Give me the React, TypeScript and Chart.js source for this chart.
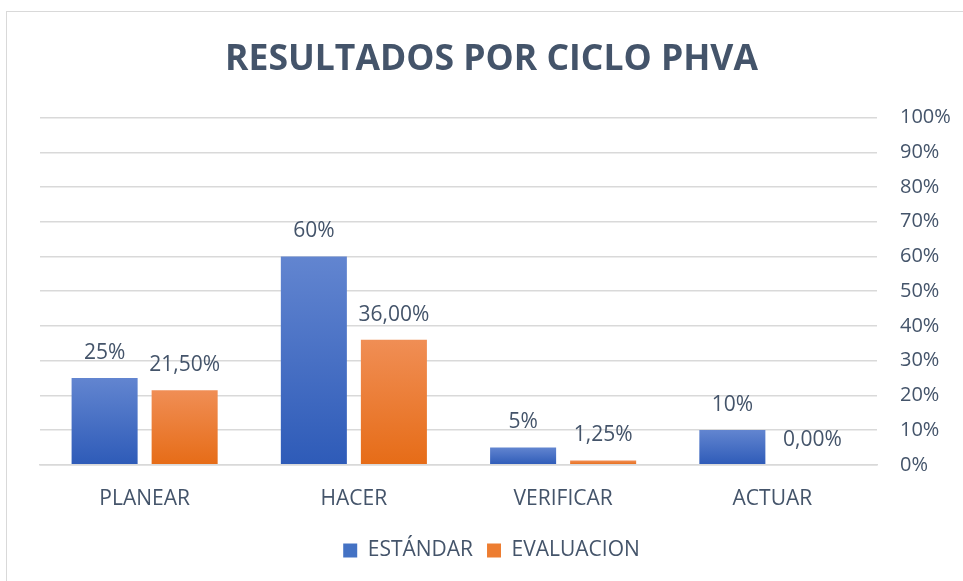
import React, { useEffect, useRef } from "react";
import { Chart, registerables } from "chart.js";

Chart.register(...registerables);

const categories = ["PLANEAR", "HACER", "VERIFICAR", "ACTUAR"];
const estandar = [25, 60, 5, 10];
const evaluacion = [21.5, 36, 1.25, 0];
const yTicks = [0, 10, 20, 30, 40, 50, 60, 70, 80, 90, 100];
const seriesNames = ["ESTÁNDAR", "EVALUACION"];

const TEXT = "#44546A";
const FONT = "'Open Sans', 'Liberation Sans', sans-serif";

function barGradient(ctx: any, top: string, bottom: string) {
  const chart = ctx.chart;
  const scale = chart.scales && chart.scales.y;
  if (!scale || ctx.dataIndex === undefined) return bottom;
  const v = ctx.raw as number;
  const yTop = scale.getPixelForValue(v);
  const yBase = scale.getPixelForValue(0);
  if (!isFinite(yTop) || !isFinite(yBase) || Math.abs(yBase - yTop) < 1) return bottom;
  const g = chart.ctx.createLinearGradient(0, yTop, 0, yBase);
  g.addColorStop(0, top);
  g.addColorStop(1, bottom);
  return g;
}

const labelPlugin = {
  id: "barLabels",
  afterDatasetsDraw(chart: any) {
    const ctx = chart.ctx;
    ctx.save();
    ctx.font = `21px ${FONT}`;
    ctx.fillStyle = TEXT;
    ctx.textAlign = "center";
    ctx.textBaseline = "middle";
    chart.data.datasets.forEach((ds: any, di: number) => {
      const meta = chart.getDatasetMeta(di);
      meta.data.forEach((bar: any, i: number) => {
        const v = ds.data[i] as number;
        const txt = di === 0 ? `${v}%` : `${v.toFixed(2).replace(".", ",")}%`;
        ctx.fillText(txt, bar.x, bar.y - 25);
      });
    });
    ctx.restore();
  },
};

export default function App() {
  const ref = useRef<HTMLCanvasElement | null>(null);
  useEffect(() => {
    if (!ref.current) return;
    const chart = new Chart(ref.current, {
      type: "bar",
      data: {
        labels: categories,
        datasets: [
          {
            label: seriesNames[0],
            data: estandar,
            backgroundColor: (c: any) => barGradient(c, "#6285D0", "#2E5BB8"),
            categoryPercentage: 0.765,
            barPercentage: 0.825,
            yAxisID: "y",
          },
          {
            label: seriesNames[1],
            data: evaluacion,
            backgroundColor: (c: any) => barGradient(c, "#F08E55", "#E66C17"),
            categoryPercentage: 0.765,
            barPercentage: 0.825,
            yAxisID: "y",
          },
        ],
      },
      options: {
        animation: false,
        responsive: false,
        maintainAspectRatio: false,
        layout: { padding: { left: 20, right: 0, top: 0, bottom: 10 } },
        plugins: {
          title: {
            display: true,
            text: "RESULTADOS POR CICLO PHVA",
            color: TEXT,
            font: { family: FONT, size: 35.5, weight: "bold" },
            padding: { top: 39, bottom: 36 },
          },
          legend: {
            position: "bottom",
            labels: {
              color: TEXT,
              font: { family: FONT, size: 21 },
              boxWidth: 14,
              boxHeight: 14,
              padding: 14,
              generateLabels: () => [
                { text: seriesNames[0], fillStyle: "#4472C4", strokeStyle: "#4472C4", lineWidth: 0, fontColor: TEXT, datasetIndex: 0 },
                { text: seriesNames[1], fillStyle: "#ED7D31", strokeStyle: "#ED7D31", lineWidth: 0, fontColor: TEXT, datasetIndex: 1 },
              ],
            },
          },
          tooltip: { enabled: false },
        },
        scales: {
          x: {
            grid: { display: false },
            border: { display: true, color: "#D9D9D9", width: 1.5 },
            ticks: { color: TEXT, font: { family: FONT, size: 21 }, padding: 14 },
          },
          yl: {
            type: "linear",
            position: "left",
            display: true,
            grid: { display: false, drawTicks: false },
            border: { display: false },
            ticks: { display: false },
            afterFit: (s: any) => {
              s.width = 20;
            },
          },
          y: {
            position: "right",
            min: 0,
            max: 100,
            afterBuildTicks: (s: any) => {
              s.ticks = yTicks.map((v) => ({ value: v }));
            },
            afterFit: (s: any) => {
              s.width = 86;
            },
            grid: { color: "#D9D9D9", drawTicks: false, lineWidth: 1.5 },
            border: { display: false },
            ticks: {
              color: TEXT,
              font: { family: FONT, size: 20 },
              padding: 23,
              callback: (v: any) => `${v}%`,
            },
          },
        },
      },
      plugins: [labelPlugin],
    } as any);
    return () => chart.destroy();
  }, []);

  return (
    <div style={{ position: "fixed", left: 0, top: 0, width: 963, height: 581, background: "#fff", overflow: "hidden" }}>
      <div style={{ position: "absolute", left: 6, top: 11, width: 1000, height: 1000, border: "1px solid #D9D9D9" }} />
      <canvas ref={ref} width={963} height={581} style={{ position: "absolute", left: 0, top: 0 }} />
    </div>
  );
}
